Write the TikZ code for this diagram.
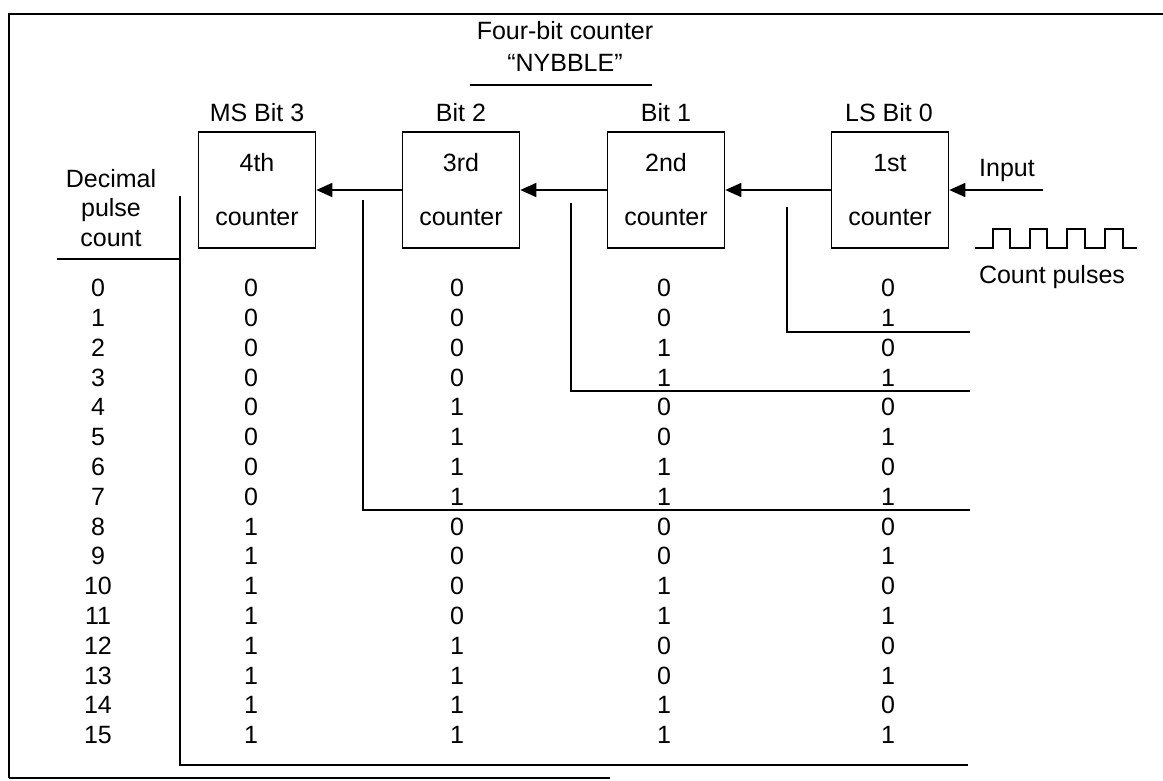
\documentclass[tikz,border=0pt]{standalone}
\usepackage{fontspec}
\setmainfont{Liberation Sans}
\usetikzlibrary{arrows.meta}
\begin{document}
\begin{tikzpicture}[x=1pt,y=-1pt,
  ln/.style={line width=1.6pt},
  ctr/.style={draw, line width=1.6pt, minimum width=117pt, minimum height=116pt,
    inner sep=0pt, align=center, font=\fontsize{25}{54}\selectfont},
  txt/.style={font=\fontsize{25}{30}\selectfont, inner sep=0pt},
  arr/.style={line width=1.6pt, -{Triangle[length=16pt,width=14pt]}, shorten >=0pt},
]
\useasboundingbox (0,0) rectangle (1163,780);
% frame
\draw[ln] (9,778) -- (9,14) -- (1163,14);
\draw[ln] (9,778) -- (610,778);
% title
\node[txt] (t1) at (565,31) {Four-bit counter};
\node[txt] (t2) at (565,63) {“NYBBLE”};
\draw[line width=1.2pt] (470,85) -- (652,85);
% counters
\node[ctr] (b4) at (257,190) {4th\\counter};
\node[ctr] (b3) at (461,190) {3rd\\counter};
\node[ctr] (b2) at (666,190) {2nd\\counter};
\node[ctr] (b1) at (890,190) {1st\\counter};
\node[txt] (l4) at (257,113) {MS Bit 3};
\node[txt] (l3) at (461,113) {Bit 2};
\node[txt] (l2) at (666,113) {Bit 1};
\node[txt] (l1) at (889,113) {LS Bit 0};
\draw[arr] (b1.west) -- (b2.east);
\draw[arr] (b2.west) -- (b3.east);
\draw[arr] (b3.west) -- (b4.east);
\coordinate (inp) at (1043,190);
\draw[arr] (inp) -- (b1.east);
\node[txt] (inl) at (1007,170) {Input};
% pulses
\draw[ln, line join=miter] (975,248) -- (993,248) -- (993,229) -- (1010,229) -- (1010,248)
  -- (1030,248) -- (1030,229) -- (1047,229) -- (1047,248)
  -- (1067,248) -- (1067,229) -- (1085,229) -- (1085,248)
  -- (1105,248) -- (1105,229) -- (1123,229) -- (1123,248) -- (1137,248);
\node[txt] (cp) at (1052,277) {Count pulses};
% decimal header
\node[txt, align=center, font=\fontsize{25}{29.5}\selectfont] (dh) at (111,208) {Decimal\\pulse\\count};
\draw[ln] (57,259) -- (180,259);
% table lines
\draw[ln] (180,196) -- (180,765) -- (968,765);
\draw[ln] (363,200) -- (363,510) -- (970,510);
\draw[ln] (571,203) -- (571,391) -- (970,391);
\draw[ln] (787,207) -- (787,332) -- (970,332);
% table
\foreach \k in {0,...,15} {
  \pgfmathtruncatemacro{\bthree}{int(\k/8)}
  \pgfmathtruncatemacro{\btwo}{mod(int(\k/4),2)}
  \pgfmathtruncatemacro{\bone}{mod(int(\k/2),2)}
  \pgfmathtruncatemacro{\bzero}{mod(\k,2)}
  \pgfmathsetmacro{\yy}{288+29.8*\k}
  \node[txt] (dec\k) at (98,\yy) {\k};
  \node[txt] (c3r\k) at (251,\yy) {\bthree};
  \node[txt] (c2r\k) at (457,\yy) {\btwo};
  \node[txt] (c1r\k) at (664,\yy) {\bone};
  \node[txt] (c0r\k) at (888,\yy) {\bzero};
}
\end{tikzpicture}
\end{document}
